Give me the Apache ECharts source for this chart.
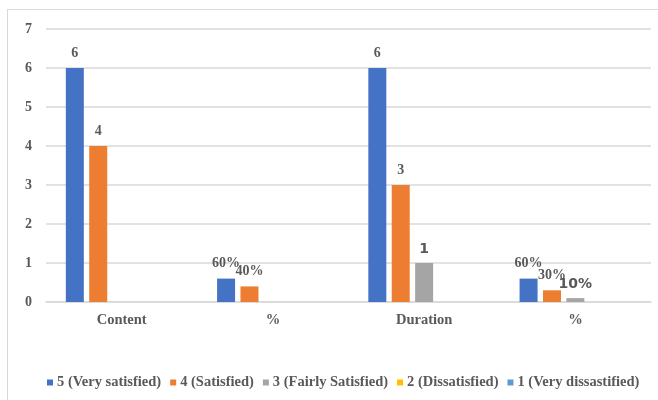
<!DOCTYPE html>
<html><head><meta charset="utf-8">
<script src="https://cdn.jsdelivr.net/npm/echarts@6/dist/echarts.min.js"></script>
<style>html,body{margin:0;padding:0;background:#fff}#c{width:658px;height:400px}
#frame{position:absolute;left:7px;top:9px;width:660px;height:400px;border:1px solid #d9d9d9;box-sizing:border-box;pointer-events:none}</style>
</head><body><div id="c"></div><div id="frame"></div>
<script>
const categories = ['Content', '%', 'Duration', '%'];
const seriesNames = ['5 (Very satisfied)', '4 (Satisfied)', '3 (Fairly Satisfied)', '2 (Dissatisfied)', '1 (Very dissastified)'];
const verySatisfied = [6, 0.6, 6, 0.6];
const satisfied = [4, 0.4, 3, 0.3];
const fairlySatisfied = [0, 0, 1, 0.1];
const dissatisfied = [0, 0, 0, 0];
const veryDissatisfied = [0, 0, 0, 0];
const labelsVerySatisfied = ['6', '60%', '6', '60%'];
const labelsSatisfied = ['4', '40%', '3', '30%'];
const labelsFairly = ['', '', '1', '10%'];
const labelsDis = ['', '', '', ''];
const labelsVeryDis = ['', '', '', ''];
const yTicks = [0, 1, 2, 3, 4, 5, 6, 7];

const colors = ['#4472C4', '#ED7D31', '#A5A5A5', '#FFC000', '#5B9BD5'];
const values = [verySatisfied, satisfied, fairlySatisfied, dissatisfied, veryDissatisfied];
const labels = [labelsVerySatisfied, labelsSatisfied, labelsFairly, labelsDis, labelsVeryDis];
const serif = '"Liberation Serif", "Times New Roman", serif';

const chart = echarts.init(document.getElementById('c'));
chart.setOption({
  animation: false,
  color: colors,
  grid: { left: 46, right: 7, top: 29, bottom: 98 },
  legend: {
    bottom: 5, left: 42,
    itemWidth: 6, itemHeight: 6, itemGap: 9,
    icon: 'rect',
    textStyle: { fontFamily: serif, fontWeight: 'bold', fontSize: 14.5, color: '#595959', padding: [0, 0, 0, -1] },
    data: seriesNames
  },
  xAxis: {
    type: 'category', data: categories,
    axisLine: { lineStyle: { color: '#d9d9d9', width: 1.5 } },
    axisTick: { show: false },
    axisLabel: { fontFamily: serif, fontWeight: 'bold', fontSize: 14.5, color: '#595959', margin: 11 }
  },
  yAxis: {
    type: 'value', min: 0, max: 7, interval: 1,
    axisLine: { show: false }, axisTick: { show: false },
    splitLine: { lineStyle: { color: '#d9d9d9', width: 1.5 } },
    axisLabel: { fontFamily: serif, fontWeight: 'bold', fontSize: 14, color: '#595959', margin: 14,
      formatter: v => yTicks.includes(v) ? String(v) : '' }
  },
  series: seriesNames.map((name, i) => ({
    name, type: 'bar', data: values[i], barWidth: 18, barGap: '30%',
    label: {
      show: true, position: 'top', distance: i === 2 ? 7 : 8,
      fontFamily: i === 2 ? '"DejaVu Sans", sans-serif' : serif,
      fontWeight: 'bold', fontSize: 14, color: '#595959',
      formatter: p => labels[i][p.dataIndex]
    }
  }))
});
</script></body></html>
